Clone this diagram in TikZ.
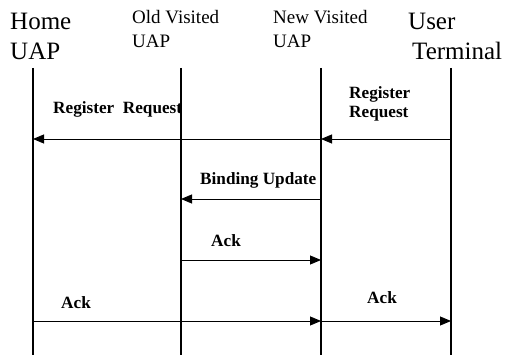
\documentclass[tikz,border=0pt]{standalone}
\usepackage{fontspec}
\setmainfont{Liberation Serif}
\usetikzlibrary{arrows.meta}
\tikzset{
  lifeline/.style={line width=1.6pt, draw=black},
  msg/.style={line width=0.9pt, draw=black, -{Triangle[length=11pt,width=9pt]}},
  bighead/.style={inner sep=0pt, anchor=base west, align=left, font=\fontsize{25}{30}\selectfont},
  midhead/.style={inner sep=0pt, anchor=base west, align=left, font=\fontsize{19}{24}\selectfont},
  msglabel/.style={inner sep=0pt, anchor=base west, align=left, font=\fontsize{17.2}{19.5}\selectfont\bfseries}
}
\begin{document}
\begin{tikzpicture}[x=1pt, y=-1pt]
  \useasboundingbox (0,0) rectangle (508,355);

  % participants (anchored at the baseline of the last line)
  \node[bighead] (home) at (10,60) {Home\\UAP};
  \node[midhead] (old)  at (132,48) {Old Visited\\UAP};
  \node[midhead] (new)  at (273,48) {New Visited\\UAP};
  \node[bighead] (ut)   at (408,60) {User\\\hspace*{4pt}Terminal};

  % lifelines
  \coordinate (hT) at (33,68);  \coordinate (hB) at (33,355);
  \coordinate (oT) at (181,68); \coordinate (oB) at (181,355);
  \coordinate (nT) at (321,68); \coordinate (nB) at (321,355);
  \coordinate (uT) at (451,68); \coordinate (uB) at (451,355);
  \draw[lifeline] (hT) -- (hB);
  \draw[lifeline] (oT) -- (oB);
  \draw[lifeline] (nT) -- (nB);
  \draw[lifeline] (uT) -- (uB);

  % message anchor points on the lifelines
  \coordinate (h1) at (33,139);  \coordinate (n1) at (321,139); \coordinate (u1) at (451,139);
  \coordinate (o2) at (181,199); \coordinate (n2) at (321,199);
  \coordinate (o3) at (181,260); \coordinate (n3) at (321,260);
  \coordinate (h4) at (33,321);  \coordinate (n4) at (321,321); \coordinate (u4) at (451,321);

  % messages
  \draw[msg] (u1) -- (n1);
  \draw[msg] (n1) -- (h1);
  \draw[msg] (n2) -- (o2);
  \draw[msg] (o3) -- (n3);
  \draw[msg] (h4) -- (n4);
  \draw[msg] (n4) -- (u4);

  % message labels
  \node[msglabel] (l1a) at (53,114)  {Register\ \ Request};
  \node[msglabel] (l1b) at (349,118) {Register\\Request};
  \node[msglabel] (l2)  at (200,185) {Binding Update};
  \node[msglabel] (l3)  at (211,247) {Ack};
  \node[msglabel] (l4a) at (61,308)  {Ack};
  \node[msglabel] (l4b) at (367,303) {Ack};
\end{tikzpicture}
\end{document}
